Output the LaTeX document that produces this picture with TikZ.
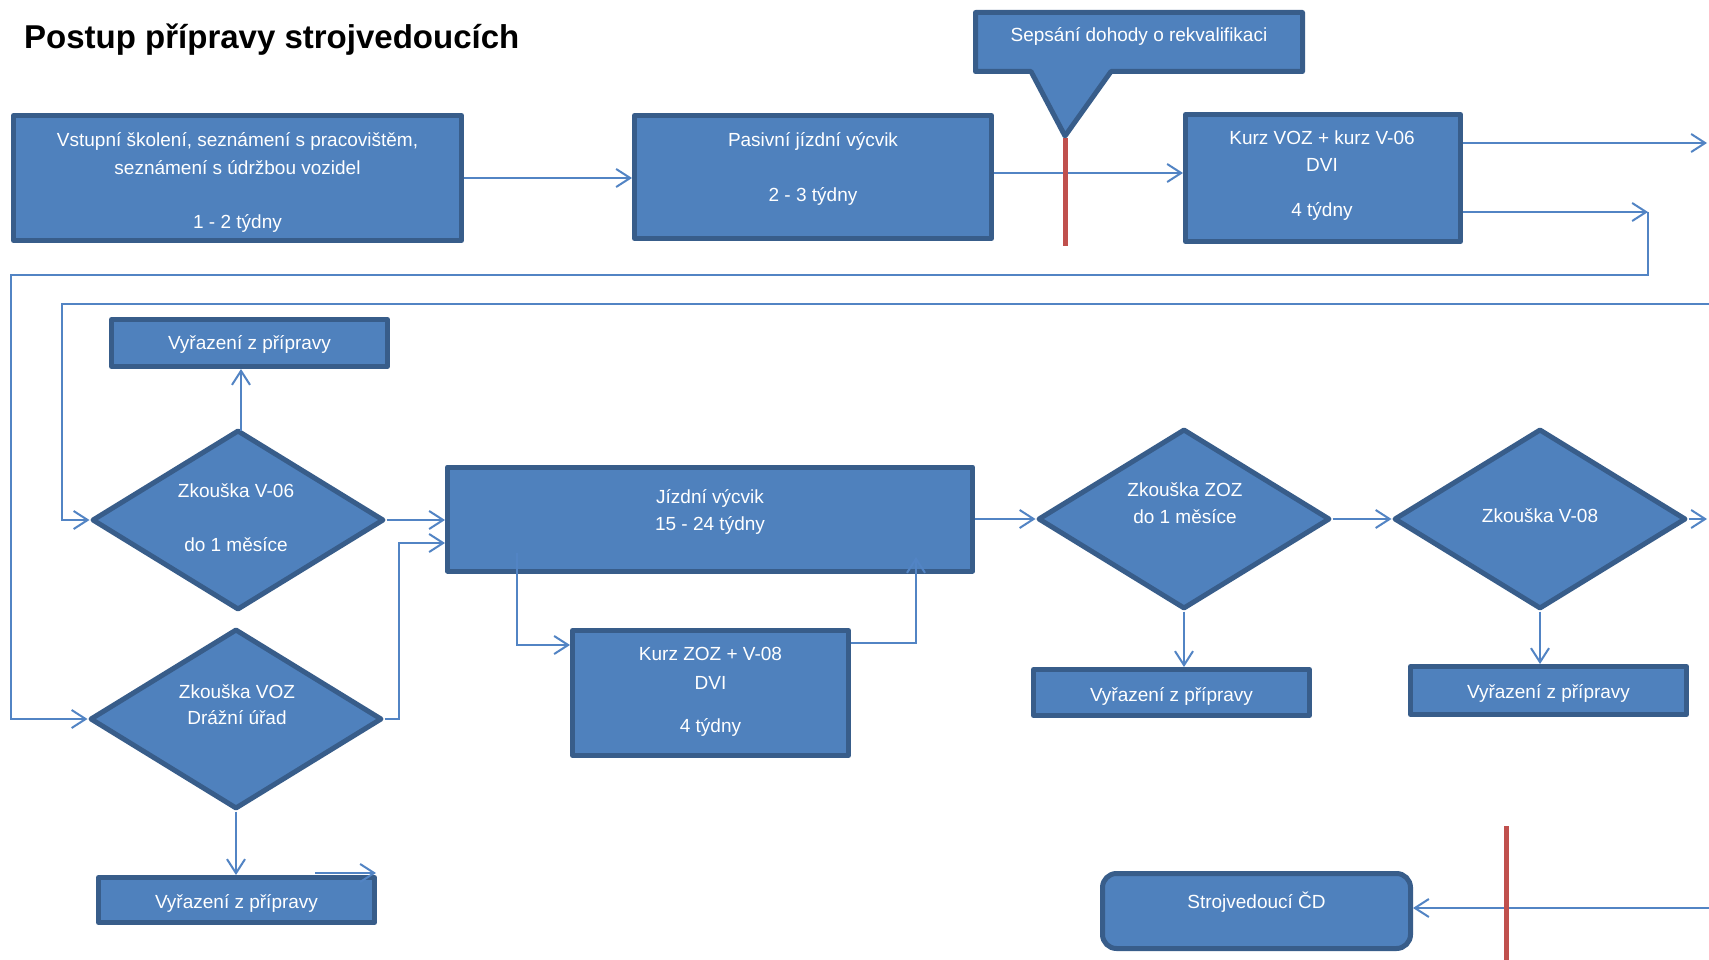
\documentclass[tikz,border=0pt]{standalone}
\usepackage{fontspec}
\setmainfont{Liberation Sans}
\usetikzlibrary{shapes.geometric,arrows.meta}
\definecolor{boxfill}{HTML}{4F81BD}
\definecolor{boxline}{HTML}{385D8A}
\definecolor{connc}{HTML}{5284C4}
\definecolor{redc}{HTML}{C0504D}
\begin{document}
\begin{tikzpicture}[x=1pt,y=-1pt,
  shp/.style={draw=boxline, fill=boxfill, line width=5pt, line join=round, inner sep=0pt},
  box/.style={shp, rectangle},
  dia/.style={shp, diamond, minimum width=292pt, minimum height=180pt},
  txt/.style={text=white, font=\fontsize{19}{23}\selectfont, anchor=base, inner sep=0pt},
  conn/.style={draw=connc, line width=2pt, -{Straight Barb[length=14pt,width=18pt]}},
  redln/.style={draw=redc, line width=5pt}
]
\fill[white] (0,0) rectangle (1709,960);
\useasboundingbox (0,0) rectangle (1709,960);

% title
\node[anchor=base west, inner sep=0pt, font=\fontsize{33}{40}\selectfont\bfseries] (title) at (24,49) {Postup přípravy strojvedoucích};

% boxes
\node[box, minimum width=448pt, minimum height=125pt] (b1) at (237.5,178) {};
\node[box, minimum width=357pt, minimum height=123pt] (b2) at (813,177) {};
\node[box, minimum width=275pt, minimum height=127pt] (b3) at (1323,178) {};
\node[box, minimum width=525pt, minimum height=104pt] (jv) at (710,519) {};
\node[box, minimum width=276pt, minimum height=125pt] (kz) at (710.5,693) {};
\node[box, minimum width=276pt, minimum height=47pt] (v1) at (249.5,343) {};
\node[box, minimum width=276pt, minimum height=45pt] (v2) at (236.5,900) {};
\node[box, minimum width=276pt, minimum height=46pt] (v3) at (1171.5,692.5) {};
\node[box, minimum width=276pt, minimum height=48pt] (v4) at (1548.5,690.5) {};
\node[box, rounded corners=14pt, minimum width=308pt, minimum height=75pt] (sv) at (1256.5,911) {};

% diamonds
\node[dia] (d1) at (238,520) {};
\node[dia] (d2) at (236,719) {};
\node[dia] (d3) at (1184,519) {};
\node[dia] (d4) at (1540,519) {};

% callout
\path[shp] (975.5,12.5) -- (1302.5,12.5) -- (1302.5,71.5) -- (1111,71.5) -- (1065,136) -- (1031,71.5) -- (975.5,71.5) -- cycle;
\coordinate (tip) at (1065,138);
\coordinate (tipend) at (1065,246);

% connectors
\draw[conn] (b1.east) -- (b1.east -| b2.west);
\coordinate (p2) at ([yshift=4pt]b2.east);
\draw[conn] (p2) -- (p2 -| b3.west);
\coordinate (p3a) at ([yshift=35pt]b3.east);
\coordinate (out1) at (1707,143);
\draw[conn] (p3a) -- (out1);
\coordinate (p3b) at ([yshift=-34pt]b3.east);
\coordinate (k1) at (1648,212);
\draw[conn] (p3b) -- (k1);
\draw[conn] (k1) -- (1648,275) -- (11,275) -- (11,719) -- (d2.west);
\coordinate (in2) at (1709,304);
\draw[conn] (in2) -- (62,304) -- (62,520) -- (d1.west);
\coordinate (d1n) at ([xshift=3pt,yshift=-3pt]d1.north);
\draw[conn] (d1n) -- (d1n |- v1.south);
\draw[conn] (d1.east) -- (d1.east -| jv.west);
\coordinate (j2) at ([yshift=-24pt]jv.west);
\draw[conn] (d2.east) -- (399,719) |- (j2);
\coordinate (k2) at ([yshift=48pt]kz.west);
\draw[conn] (517,553) |- (k2);
\coordinate (k3) at ([yshift=50pt]kz.east);
\draw[conn] (k3) -| (916,557);
\draw[conn] (jv.east) -- (d3.west);
\draw[conn] (d3.east) -- (d4.west);
\coordinate (out3) at (1707,519);
\draw[conn] (d4.east) -- (out3);
\draw[conn] (d3.south) -- (d3.south |- v3.north);
\draw[conn] (d4.south) -- (d4.south |- v4.north);
\draw[conn] (d2.south) -- (d2.south |- v2.north);
\coordinate (s1) at (315,873);
\coordinate (s2) at (376,873);
\draw[conn] (s1) -- (s2);
\coordinate (in4) at (1709,908);
\draw[conn] (in4) -- (in4 -| sv.east);

% red lines
\draw[redln] (tip) -- (tipend);
\coordinate (r1) at (1506,826);
\coordinate (r2) at (1506,960);
\draw[redln] (r1) -- (r2);

% texts
\node[txt] (t1a) at (237.5,147) {Vstupní školení, seznámení s pracovištěm,};
\node[txt] (t1b) at (237.5,174.5) {seznámení s údržbou vozidel};
\node[txt] (t1c) at (237.5,228.5) {1 - 2 týdny};
\node[txt] (t2a) at (813,147) {Pasivní jízdní výcvik};
\node[txt] (t2b) at (813,202) {2 - 3 týdny};
\node[txt] (tc) at (1139,41.5) {Sepsání dohody o rekvalifikaci};
\node[txt] (t3a) at (1322,144.5) {Kurz VOZ + kurz V-06};
\node[txt] (t3b) at (1322,172) {DVI};
\node[txt] (t3c) at (1322,216.5) {4 týdny};
\node[txt] (td1a) at (236,497.5) {Zkouška V-06};
\node[txt] (td1b) at (236,551.5) {do 1 měsíce};
\node[txt] (tja) at (710,503) {Jízdní výcvik};
\node[txt] (tjb) at (710,530) {15 - 24 týdny};
\node[txt] (tka) at (710.5,660) {Kurz ZOZ + V-08};
\node[txt] (tkb) at (710.5,689) {DVI};
\node[txt] (tkc) at (710.5,732.5) {4 týdny};
\node[txt] (td3a) at (1185,496.5) {Zkouška ZOZ};
\node[txt] (td3b) at (1185,523.5) {do 1 měsíce};
\node[txt] (td4) at (1540,522.5) {Zkouška V-08};
\node[txt] (td2a) at (237,698.5) {Zkouška VOZ};
\node[txt] (td2b) at (237,724.5) {Drážní úřad};
\node[txt] (tv1) at (249.5,349.5) {Vyřazení z přípravy};
\node[txt] (tv2) at (236.5,908) {Vyřazení z přípravy};
\node[txt] (tv3) at (1171.5,701) {Vyřazení z přípravy};
\node[txt] (tv4) at (1548.5,698) {Vyřazení z přípravy};
\node[txt] (tsv) at (1256.5,908.5) {Strojvedoucí ČD};
\end{tikzpicture}
\end{document}
